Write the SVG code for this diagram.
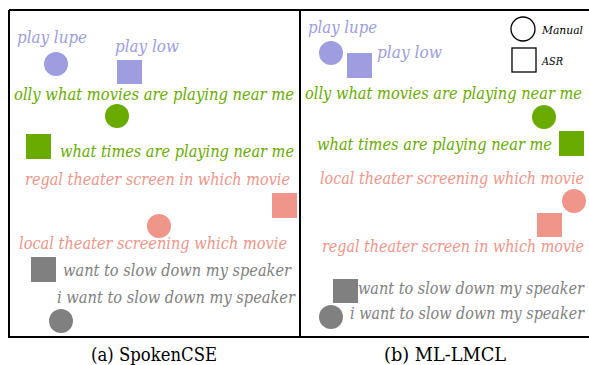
<svg xmlns="http://www.w3.org/2000/svg" width="589" height="365" viewBox="0 0 589 365">
<style>
text{font-family:'DejaVu Serif',serif;font-style:italic;font-size:16px}
.lav{fill:#9d9ddf}
.grn{fill:#69ab00}
.sal{fill:#f0958a}
.gry{fill:#808080}
.frame{fill:none;stroke:#000;stroke-width:2}
.cap{font-style:normal;font-size:18px;fill:#000}
.leg{fill:none;stroke:#000;stroke-width:1.3}
.legt{font-size:11.5px;fill:#000}
</style>
<rect x="0" y="0" width="589" height="365" fill="#fff"/>
<g id="frames">
<path class="frame" d="M9,10 H589 M9,10 V337 H589 M300,10 V337"/>
</g>
<g id="panel-a">
<g id="a-playlupe"><text class="lav" x="17" y="43" textLength="70" lengthAdjust="spacingAndGlyphs">play lupe</text><circle class="lav" cx="56" cy="64" r="12"/></g>
<g id="a-playlow"><text class="lav" x="115" y="52" textLength="64" lengthAdjust="spacingAndGlyphs">play low</text><rect class="lav" x="117" y="60" width="25" height="24"/></g>
<g id="a-olly"><text class="grn" x="14" y="100" textLength="280" lengthAdjust="spacingAndGlyphs">olly what movies are playing near me</text><circle class="grn" cx="117" cy="116" r="12"/></g>
<g id="a-whattimes"><rect class="grn" x="26" y="134" width="25" height="25"/><text class="grn" x="60" y="157" textLength="234" lengthAdjust="spacingAndGlyphs">what times are playing near me</text></g>
<g id="a-regal"><text class="sal" x="25" y="185" textLength="265" lengthAdjust="spacingAndGlyphs">regal theater screen in which movie</text><rect class="sal" x="272" y="193" width="25" height="25"/></g>
<g id="a-local"><circle class="sal" cx="159" cy="226" r="12"/><text class="sal" x="19" y="249" textLength="268" lengthAdjust="spacingAndGlyphs">local theater screening which movie</text></g>
<g id="a-want"><rect class="gry" x="31" y="257" width="25" height="25"/><text class="gry" x="63" y="276" textLength="228" lengthAdjust="spacingAndGlyphs">want to slow down my speaker</text></g>
<g id="a-iwant"><text class="gry" x="57" y="303" textLength="238" lengthAdjust="spacingAndGlyphs">i want to slow down my speaker</text><circle class="gry" cx="61" cy="321" r="12"/></g>
<text class="cap" x="91" y="361" textLength="126" lengthAdjust="spacingAndGlyphs">(a) SpokenCSE</text>
</g>
<g id="panel-b">
<g id="legend">
<circle class="leg" cx="523" cy="29" r="12"/><text class="legt" x="542" y="34" textLength="41" lengthAdjust="spacingAndGlyphs">Manual</text>
<rect class="leg" x="512" y="48" width="24" height="24"/><text class="legt" x="542" y="65" textLength="21" lengthAdjust="spacingAndGlyphs">ASR</text>
</g>
<g id="b-playlupe"><text class="lav" x="308" y="33" textLength="69" lengthAdjust="spacingAndGlyphs">play lupe</text><circle class="lav" cx="331" cy="53" r="12"/></g>
<g id="b-playlow"><rect class="lav" x="347" y="53" width="25" height="25"/><text class="lav" x="377" y="58" textLength="65" lengthAdjust="spacingAndGlyphs">play low</text></g>
<g id="b-olly"><text class="grn" x="305" y="99" textLength="277" lengthAdjust="spacingAndGlyphs">olly what movies are playing near me</text><circle class="grn" cx="544" cy="117" r="12"/></g>
<g id="b-whattimes"><text class="grn" x="317" y="150" textLength="235" lengthAdjust="spacingAndGlyphs">what times are playing near me</text><rect class="grn" x="559" y="131" width="25" height="25"/></g>
<g id="b-local"><text class="sal" x="320" y="184" textLength="264" lengthAdjust="spacingAndGlyphs">local theater screening which movie</text><circle class="sal" cx="574" cy="201" r="12"/></g>
<g id="b-regal"><rect class="sal" x="537" y="213" width="25" height="24"/><text class="sal" x="322" y="252" textLength="262" lengthAdjust="spacingAndGlyphs">regal theater screen in which movie</text></g>
<g id="b-want"><rect class="gry" x="333" y="279" width="25" height="24"/><text class="gry" x="358" y="294" textLength="226" lengthAdjust="spacingAndGlyphs">want to slow down my speaker</text></g>
<g id="b-iwant"><circle class="gry" cx="331" cy="317" r="12"/><text class="gry" x="350" y="319" textLength="234" lengthAdjust="spacingAndGlyphs">i want to slow down my speaker</text></g>
<text class="cap" x="384" y="361" textLength="122" lengthAdjust="spacingAndGlyphs">(b) ML-LMCL</text>
</g>
</svg>
